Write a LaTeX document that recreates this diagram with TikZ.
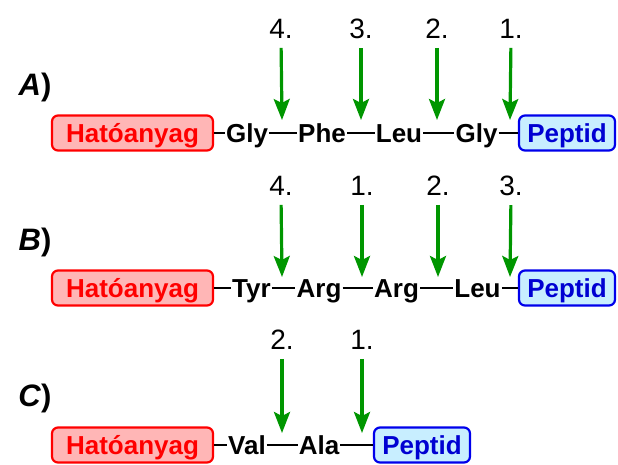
\documentclass[tikz,border=0pt]{standalone}
\usepackage{fontspec}
\setmainfont{Liberation Sans}
\newfontfamily\dfont{Liberation Sans}
\usetikzlibrary{arrows.meta}
\definecolor{drugred}{RGB}{255,0,0}
\definecolor{drugfill}{RGB}{255,182,182}
\definecolor{pepblue}{RGB}{0,0,235}
\definecolor{peptext}{RGB}{0,0,210}
\definecolor{pepfill}{RGB}{200,238,255}
\definecolor{cutgreen}{RGB}{0,150,0}
\tikzset{
  res/.style={font=\dfont\fontsize{26}{29}\selectfont\bfseries, inner xsep=1pt, inner ysep=0pt,
    text height=19pt, text depth=1pt},
  drug/.style={res, draw=drugred, fill=drugfill, text=drugred, line width=2.2pt,
    rounded corners=6pt, minimum width=161pt, minimum height=35pt},
  pep/.style={res, draw=pepblue, fill=pepfill, text=peptext, line width=2.2pt,
    rounded corners=6pt, minimum width=96pt, minimum height=35pt},
  num/.style={font=\dfont\fontsize{28}{31}\selectfont, inner sep=0pt},
  lab/.style={font=\dfont\fontsize{31}{34}\selectfont\bfseries, inner sep=0pt},
  bond/.style={line width=2.8pt},
  cut/.style={draw=cutgreen, line width=3.2pt, shorten <=9pt,
    -{Stealth[length=21pt,width=16pt,inset=4pt]}},
}
\begin{document}
\begin{tikzpicture}[x=1pt,y=-1pt]
\useasboundingbox (0,0) rectangle (618,464);

% ---- A) ----
\node[lab] (lA) at (35,87) {\textit{A})};
\node[drug] (dA) at (132.5,133) {Hatóanyag};
\node[res] (a1) at (247,133) {Gly};
\node[res] (a2) at (322,133) {Phe};
\node[res] (a3) at (399,133) {Leu};
\node[res] (a4) at (476.5,133) {Gly};
\node[pep] (pA) at (567,133) {Peptid};
\draw[bond] (dA.east) -- (a1.west);
\draw[bond] (a1.east) -- (a2.west);
\draw[bond] (a2.east) -- (a3.west);
\draw[bond] (a3.east) -- (a4.west);
\draw[bond] (a4.east) -- (pA.west);
\node[num] (nA4) at (281,29) {4.};
\node[num] (nA3) at (361,29) {3.};
\node[num] (nA2) at (437,29) {2.};
\node[num] (nA1) at (511,29) {1.};
\coordinate (tA4) at (282,120);
\coordinate (tA3) at (361,120);
\coordinate (tA2) at (437,120);
\coordinate (tA1) at (510,120);
\draw[cut] (nA4.south) -- (tA4);
\draw[cut] (nA3.south) -- (tA3);
\draw[cut] (nA2.south) -- (tA2);
\draw[cut] (nA1.south) -- (tA1);

% ---- B) ----
\node[lab] (lB) at (35,242) {\textit{B})};
\node[drug] (dB) at (132.5,288) {Hatóanyag};
\node[res] (b1) at (251.5,288) {Tyr};
\node[res] (b2) at (319,288) {Arg};
\node[res] (b3) at (396.5,288) {Arg};
\node[res] (b4) at (477.5,288) {Leu};
\node[pep] (pB) at (567,288) {Peptid};
\draw[bond] (dB.east) -- (b1.west);
\draw[bond] (b1.east) -- (b2.west);
\draw[bond] (b2.east) -- (b3.west);
\draw[bond] (b3.east) -- (b4.west);
\draw[bond] (b4.east) -- (pB.west);
\node[num] (nB4) at (281,186) {4.};
\node[num] (nB1) at (362,186) {1.};
\node[num] (nB2) at (438,186) {2.};
\node[num] (nB3) at (511,186) {3.};
\coordinate (tB4) at (282,277);
\coordinate (tB1) at (362,277);
\coordinate (tB2) at (438,277);
\coordinate (tB3) at (510,277);
\draw[cut] (nB4.south) -- (tB4);
\draw[cut] (nB1.south) -- (tB1);
\draw[cut] (nB2.south) -- (tB2);
\draw[cut] (nB3.south) -- (tB3);

% ---- C) ----
\node[lab] (lC) at (35,398) {\textit{C})};
\node[drug] (dC) at (132.5,445) {Hatóanyag};
\node[res] (c1) at (247,445) {Val};
\node[res] (c2) at (319,445) {Ala};
\node[pep] (pC) at (422,445) {Peptid};
\draw[bond] (dC.east) -- (c1.west);
\draw[bond] (c1.east) -- (c2.west);
\draw[bond] (c2.east) -- (pC.west);
\node[num] (nC2) at (282,340) {2.};
\node[num] (nC1) at (362,340) {1.};
\coordinate (tC2) at (282,433);
\coordinate (tC1) at (362,433);
\draw[cut] (nC2.south) -- (tC2);
\draw[cut] (nC1.south) -- (tC1);
\end{tikzpicture}
\end{document}
